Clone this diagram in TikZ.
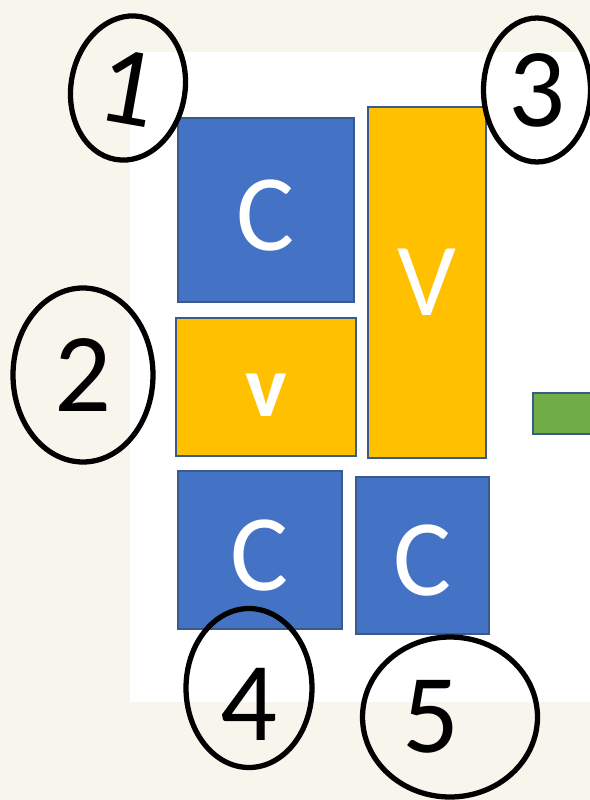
\documentclass[tikz,border=0pt]{standalone}
\usepackage{fontspec}
\setmainfont{Carlito}
\usetikzlibrary{shapes.geometric}

\definecolor{paper}{HTML}{F8F5EC}
\definecolor{boxblue}{HTML}{4472C4}
\definecolor{boxorange}{HTML}{FFC000}
\definecolor{boxgreen}{HTML}{70AD47}
\definecolor{edgeblue}{HTML}{3A5A8C}

\begin{document}
\begin{tikzpicture}[
    x=0.02cm, y=-0.02cm,
    every node/.style={font=\rmfamily},
    slot/.style={draw=edgeblue, line width=0.8pt, inner sep=0pt, text=white},
    cbox/.style={slot, fill=boxblue, font=\fontsize{62}{66}\selectfont,
        text height=46pt, text depth=0pt},
    vbox/.style={slot, fill=boxorange},
    ring/.style={ellipse, draw, line width=3pt, inner sep=0pt,
        font=\fontsize{64}{68}\selectfont}
]

% --- Paper and slide ---
\clip (0,0) rectangle (590,800);
\fill[paper] (0,0) rectangle (590,800);
\fill[white] (130,52) rectangle (600,702);

% --- Blocks ---
\node[cbox, minimum width=3.52cm, minimum height=3.68cm] (blockA) at (266,210) {C};
\node[vbox, minimum width=3.60cm, minimum height=2.76cm,
    font=\bfseries\fontsize{50}{54}\selectfont, text height=34pt, text depth=0pt]
    (blockB) at (266,387) {v};
\node[vbox, minimum width=2.36cm, minimum height=7.02cm,
    font=\fontsize{59}{62}\selectfont] (blockC) at (427,282.5) {V};
\node[cbox, minimum width=3.28cm, minimum height=3.16cm] (blockD) at (260,550) {C};
\node[cbox, minimum width=2.66cm, minimum height=3.14cm] (blockE) at (422.5,555.5) {C};
\node[slot, fill=boxgreen, minimum width=1.34cm, minimum height=0.82cm] (arrowtail) at (566.5,413.5) {};

% --- Hand-drawn numbers ---
\node[ring, minimum width=2.28cm, minimum height=2.90cm, rotate=-10] (mark1) at (128,88) {1};
\node[ring, minimum width=2.80cm, minimum height=3.48cm] (mark2) at (83,375) {2};
\node[ring, minimum width=2.14cm, minimum height=2.88cm] (mark3) at (537,90) {3};
\node[ring, minimum width=2.52cm, minimum height=3.18cm,
    text height=60pt, text depth=0pt] (mark4) at (249,688) {4};
\node[ring, minimum width=3.50cm, minimum height=3.20cm,
    text width=1.9cm, align=left] (mark5) at (450,717) {5};

\end{tikzpicture}
\end{document}
